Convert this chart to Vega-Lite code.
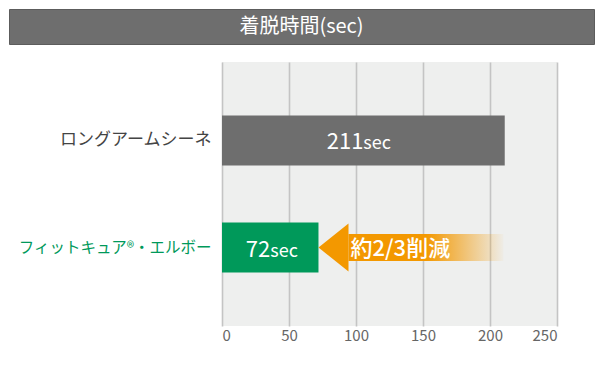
{
  "$schema": "https://vega.github.io/schema/vega-lite/v6.json",
  "padding": {"left": 8, "top": 8, "right": 0, "bottom": 0},
  "spacing": 17,
  "background": "white",
  "config": {"font": "Noto Sans CJK JP", "view": {"stroke": null}},
  "datasets": {
    "title": [{"label": "着脱時間(sec)"}],
    "bars": [
      {"item": "ロングアームシーネ", "value": 211, "unit": "sec"},
      {"item": "フィットキュア®・エルボー", "value": 72, "unit": "sec"}
    ],
    "arrow": [
      {"item": "フィットキュア®・エルボー", "from": 210, "to": 72, "label": "約2/3削減"}
    ],
    "empty": []
  },
  "vconcat": [
    {
      "width": 585,
      "height": 35,
      "data": {"name": "title"},
      "view": {"fill": "#6e6e6e", "stroke": "#5c5c5c"},
      "mark": {"type": "text", "color": "white", "fontSize": 20, "baseline": "middle"},
      "encoding": {"text": {"field": "label"}}
    },
    {
      "spacing": 0,
      "hconcat": [
        {
          "width": 1,
          "height": 264,
          "data": {"name": "empty"},
          "mark": "point",
          "encoding": {}
        },
        {
          "width": 335,
          "height": 264,
          "view": {"fill": "#eeefee", "stroke": null},
          "encoding": {
            "y": {
              "field": "item",
              "type": "nominal",
              "sort": ["ロングアームシーネ", "フィットキュア®・エルボー"],
              "scale": {"paddingInner": 0.533, "paddingOuter": 0.5},
              "axis": {
                "title": null,
                "domain": false,
                "ticks": false,
                "grid": false,
                "labelFontSize": {"condition": {"test": "datum.value == 'ロングアームシーネ'", "value": 17}, "value": 15.5},
                "labelLimit": 0,
                "labelPadding": 11,
                "minExtent": 212,
                "labelColor": {"condition": {"test": "datum.value == 'ロングアームシーネ'", "value": "#444444"}, "value": "#00995a"}
              }
            }
          },
          "layer": [
            {
              "data": {"name": "bars"},
              "mark": {"type": "bar"},
              "encoding": {
                "x": {
                  "field": "value",
                  "type": "quantitative",
                  "scale": {"domain": [0, 250], "nice": false},
                  "axis": {
                    "title": null,
                    "values": [0, 50, 100, 150, 200, 250],
                    "grid": true,
                    "gridColor": "#c4c4c4",
                    "gridWidth": 1.6,
                    "domain": false,
                    "ticks": false,
                    "labelFontSize": 15,
                    "labelColor": "#666666",
                    "labelPadding": 2
                  }
                },
                "color": {
                  "field": "item",
                  "type": "nominal",
                  "scale": {"domain": ["ロングアームシーネ", "フィットキュア®・エルボー"], "range": ["#6e6e6e", "#00995a"]},
                  "legend": null
                }
              }
            },
            {
              "data": {"name": "arrow"},
              "mark": {
                "type": "bar",
                "size": 27,
                "xOffset": 30,
                "color": {
                  "gradient": "linear",
                  "x1": 0, "x2": 1, "y1": 0, "y2": 0,
                  "stops": [
                    {"offset": 0, "color": "#f39800"},
                    {"offset": 0.5, "color": "#f39800"},
                    {"offset": 1, "color": "rgba(243,152,0,0.03)"}
                  ]
                }
              },
              "encoding": {
                "x": {"field": "to", "type": "quantitative"},
                "x2": {"field": "from"}
              }
            },
            {
              "data": {"name": "arrow"},
              "mark": {"type": "point", "shape": "M0,0L1.25,-1L1.25,1Z", "size": 2304, "filled": true, "color": "#f39800", "opacity": 1, "strokeWidth": 0},
              "encoding": {
                "x": {"field": "to", "type": "quantitative"}
              }
            },
            {
              "data": {"name": "arrow"},
              "mark": {"type": "text", "align": "left", "baseline": "middle", "dx": 32, "dy": 1, "fontSize": 22, "fontWeight": 500, "color": "white"},
              "encoding": {
                "x": {"field": "to", "type": "quantitative"},
                "text": {"field": "label"}
              }
            },
            {
              "data": {"name": "bars"},
              "transform": [{"calculate": "datum.value / 2", "as": "mid"}],
              "mark": {"type": "text", "align": "right", "baseline": "alphabetic", "dy": 9, "fontSize": 22, "color": "white"},
              "encoding": {
                "x": {"field": "mid", "type": "quantitative"},
                "text": {"field": "value"}
              }
            },
            {
              "data": {"name": "bars"},
              "transform": [{"calculate": "datum.value / 2", "as": "mid"}],
              "mark": {"type": "text", "align": "left", "baseline": "alphabetic", "dy": 9, "fontSize": 18, "color": "white"},
              "encoding": {
                "x": {"field": "mid", "type": "quantitative"},
                "text": {"field": "unit"}
              }
            }
          ]
        }
      ]
    }
  ]
}
